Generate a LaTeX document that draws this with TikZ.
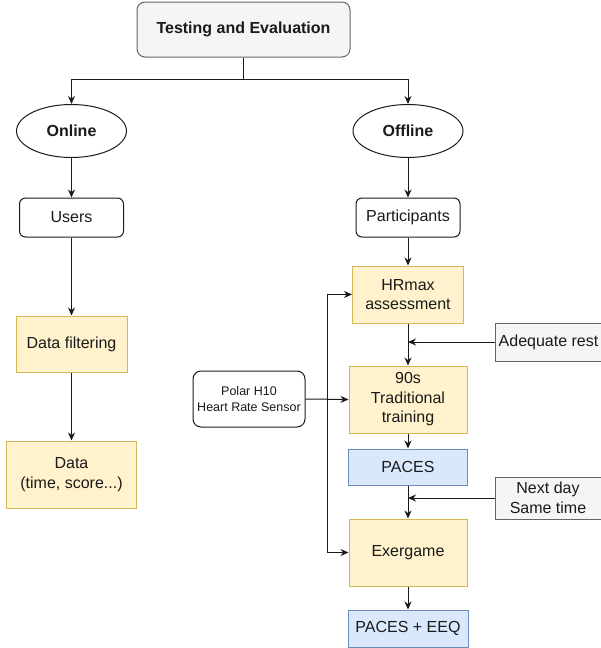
\documentclass[tikz,border=0pt]{standalone}
\usepackage{fontspec}
\setmainfont{Liberation Sans}
\usepackage{xcolor}
\usetikzlibrary{arrows.meta,shapes.geometric}
\definecolor{Ink}{HTML}{1A1A1A}
\definecolor{GreyFill}{HTML}{F5F5F5}
\definecolor{GreyLine}{HTML}{666666}
\definecolor{YellowFill}{HTML}{FFF2CC}
\definecolor{YellowLine}{HTML}{D6B656}
\definecolor{BlueFill}{HTML}{DAE8FC}
\definecolor{BlueLine}{HTML}{6C8EBF}

\begin{document}
\begin{tikzpicture}[
  x=1pt,y=-1pt,
  every node/.style={inner sep=0pt,align=center,font=\fontsize{16}{19.5}\selectfont,text=Ink},
  header/.style={draw=GreyLine,fill=GreyFill,rounded corners=8pt,line width=1pt,minimum width=213pt,minimum height=55pt,font=\fontsize{16}{19.5}\selectfont\bfseries},
  branch/.style={ellipse,draw=Ink,fill=white,line width=1pt,minimum width=110pt,minimum height=53pt,font=\fontsize{16}{19.5}\selectfont\bfseries},
  group/.style={draw=Ink,fill=white,rounded corners=6pt,line width=1pt,minimum width=104pt,minimum height=39pt},
  task/.style={draw=YellowLine,fill=YellowFill,line width=1pt},
  survey/.style={draw=BlueLine,fill=BlueFill,line width=1pt},
  note/.style={draw=GreyLine,fill=GreyFill,line width=1pt},
  edge/.style={-{Stealth[length=8pt,width=7pt]},line width=1pt,draw=Ink}
]
  \useasboundingbox (0,0) rectangle (600,648);
  \node[header] (title) at (243.5,29.5) {Testing and Evaluation};
  \node[branch] (online) at (71.5,131) {Online};
  \node[branch] (offline) at (408,131) {Offline};
  \node[group] (users) at (71.5,217.5) {Users};
  \node[group] (parts) at (408,217.5) {Participants};
  \node[task,minimum width=111pt,minimum height=56pt] (filter) at (71.5,344) {Data filtering};
  \node[task,minimum width=130pt,minimum height=67pt] (data) at (71.5,474.5) {Data\\(time, score...)};
  \node[task,minimum width=111pt,minimum height=57pt] (hr) at (408,294.5) {HRmax\\assessment};
  \node[task,minimum width=118pt,minimum height=67pt] (train) at (408,399.5) {90s\\Traditional\\training};
  \node[draw=Ink,fill=white,rounded corners=8pt,line width=1pt,minimum width=112pt,minimum height=56pt,font=\fontsize{12.5}{16}\selectfont] (polar) at (249,399) {Polar H10\\Heart Rate Sensor};
  \node[survey,minimum width=119pt,minimum height=36pt] (paces) at (408,467) {PACES};
  \node[task,minimum width=118pt,minimum height=67pt] (exer) at (408,552.5) {Exergame};
  \node[survey,minimum width=120pt,minimum height=37pt] (eeq) at (408,628.5) {PACES + EEQ};
  \node[note,anchor=west,minimum width=106pt,minimum height=38pt] (rest) at (495,342) {Adequate rest};
  \node[note,minimum width=106pt,minimum height=42pt] (nextday) at (548,498) {Next day\\Same time};
  \coordinate (split) at (243.5,79);
  \coordinate (hub) at (327,400);

  \draw[line width=1pt,draw=Ink] (title.south) -- (split);
  \draw[edge] (split) -| (online.north);
  \draw[edge] (split) -| (offline.north);
  \draw[edge] (online) -- (users);
  \draw[edge] (offline) -- (parts);
  \draw[edge] (users) -- (filter);
  \draw[edge] (filter) -- (data);
  \draw[edge] (parts) -- (hr);
  \draw[edge] (hr) -- (train);
  \draw[edge] (train) -- (paces);
  \draw[edge] (paces) -- (exer);
  \draw[edge] (exer) -- (eeq);
  \draw[edge] (rest.west) -- (rest.west -| hr.south);
  \draw[edge] (nextday.west) -- (nextday.west -| paces.south);
  \draw[edge] (polar.east) -- (train.west);
  \draw[edge] (hub) |- (hr.west);
  \draw[edge] (hub) |- (exer.west);
\end{tikzpicture}
\end{document}
